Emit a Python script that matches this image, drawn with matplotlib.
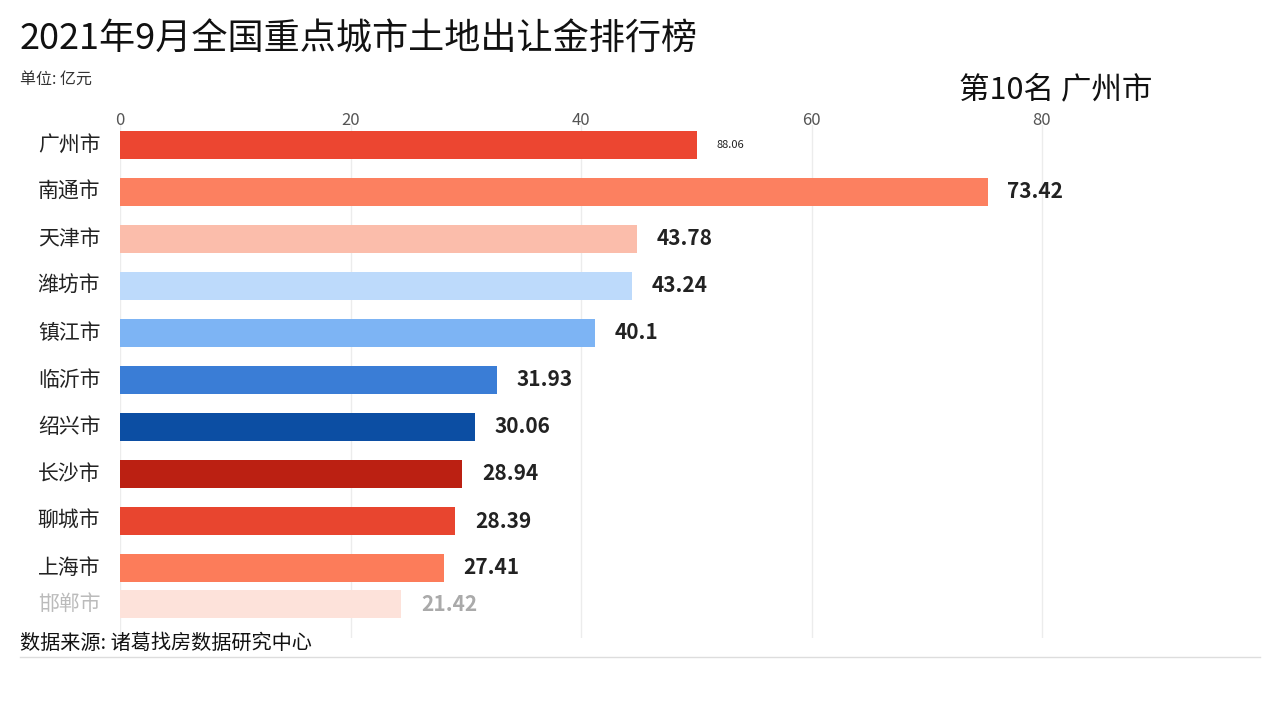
import matplotlib
matplotlib.use("Agg")
import matplotlib.pyplot as plt

plt.rcParams['font.family'] = ['Noto Sans CJK SC', 'DejaVu Sans']

# 这一帧的数据 (条形长度为动画中当前的长度)
cities = ["广州市", "南通市", "天津市", "潍坊市", "镇江市", "临沂市",
          "绍兴市", "长沙市", "聊城市", "上海市", "邯郸市"]
bar_lengths = [50.1, 75.3, 44.9, 44.4, 41.2, 32.7, 30.8, 29.7, 29.1, 28.1, 24.4]
value_labels = ["88.06", "73.42", "43.78", "43.24", "40.1", "31.93",
                "30.06", "28.94", "28.39", "27.41", "21.42"]
ranks = [0, 1, 2, 3, 4, 5, 6, 7, 8, 9, 9.77]
colors = ["#ec4631", "#fc8060", "#fbbdab", "#bddafb", "#7db4f4", "#3a7dd6",
          "#0c4ea3", "#bb2012", "#e8452f", "#fc7c5a", "#fde2da"]
ticks = [0, 20, 40, 60, 80]

W, H = 1280, 720
fig = plt.figure(figsize=(12.8, 7.2), dpi=100)
fig.patch.set_facecolor("white")

# 坐标轴位置 (像素 -> 比例)
ax_l, ax_r, ax_t, ax_b = 120, 1250, 125, 638
ax = fig.add_axes([ax_l / W, 1 - ax_b / H, (ax_r - ax_l) / W, (ax_b - ax_t) / H])
px_per_unit = (1042 - 120) / 80
ax.set_xlim(0, (ax_r - ax_l) / px_per_unit)
spacing = 47
ax.set_ylim((ax_b - 145) / spacing, (ax_t - 145) / spacing)

ax.barh(ranks, bar_lengths, height=0.6, color=colors, zorder=3)

for i, (r, L, lab) in enumerate(zip(ranks, bar_lengths, value_labels)):
    faded = i == len(cities) - 1
    size = 8 if i == 0 else 15
    ax.text(L + 1.7, r, lab, va="center", ha="left", fontsize=size,
            fontweight="normal" if i == 0 else "bold",
            color="#aaaaaa" if faded else "#222222", zorder=4)
    ax.text(-1.7, r, cities[i], va="center", ha="right", fontsize=15,
            color="#bbbbbb" if faded else "#222222")

ax.set_xticks(ticks)
ax.xaxis.tick_top()
ax.tick_params(axis="x", length=0, labelsize=12, labelcolor="#555555", pad=-3)
ax.set_yticks([])
ax.grid(axis="x", color="#ececec", linewidth=1, zorder=0)
for s in ax.spines.values():
    s.set_visible(False)

fig.text(20 / W, 1 - 40 / H, "2021年9月全国重点城市土地出让金排行榜",
         fontsize=26, va="center", ha="left", color="#111111")
fig.text(20 / W, 1 - 79 / H, "单位: 亿元", fontsize=11.5, va="center", ha="left",
         color="#333333")
fig.text(1152 / W, 1 - 90 / H, "第10名 广州市", fontsize=22, va="center",
         ha="right", color="#111111")
fig.text(20 / W, 1 - 643 / H, "数据来源: 诸葛找房数据研究中心", fontsize=14.5,
         va="center", ha="left", color="#111111")
fig.add_artist(plt.Line2D([20 / W, 1260 / W], [1 - 657 / H, 1 - 657 / H],
                          color="#dddddd", linewidth=1))

fig.savefig("out.png", dpi=100)
